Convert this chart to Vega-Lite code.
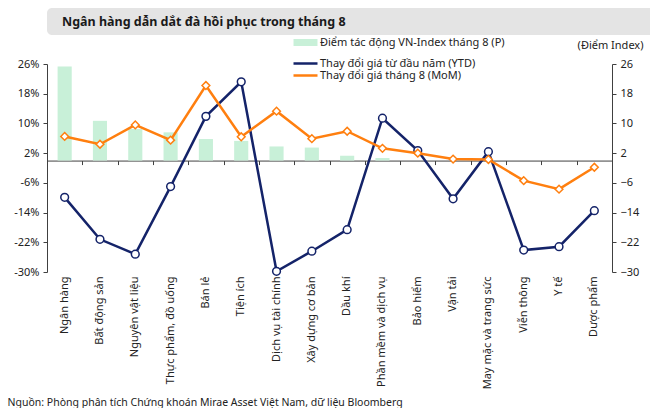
{
  "$schema": "https://vega.github.io/schema/vega-lite/v6.json",
  "background": "white",
  "padding": {"left": 7, "top": 8, "right": 7, "bottom": 0},
  "spacing": 4,
  "columns": 1,
  "align": "none",
  "config": {
    "font": "Noto Sans",
    "view": {"stroke": null},
    "axis": {"labelFont": "Noto Sans", "labelFontSize": 11, "labelColor": "#222222", "domainColor": "#404040", "tickColor": "#404040", "grid": false}
  },
  "datasets": {
    "sectors": [
      {"sector": "Ngân hàng", "bar": 25.3, "ytd": -9.9, "mom": 6.5},
      {"sector": "Bất động sản", "bar": 10.7, "ytd": -21.2, "mom": 4.4},
      {"sector": "Nguyên vật liệu", "bar": 8.5, "ytd": -25.2, "mom": 9.6},
      {"sector": "Thực phẩm, đồ uống", "bar": 7.6, "ytd": -7.0, "mom": 5.5},
      {"sector": "Bán lẻ", "bar": 5.8, "ytd": 11.9, "mom": 20.2},
      {"sector": "Tiện ích", "bar": 5.3, "ytd": 21.2, "mom": 6.4},
      {"sector": "Dịch vụ tài chính", "bar": 3.8, "ytd": -29.8, "mom": 13.3},
      {"sector": "Xây dựng cơ bản", "bar": 3.5, "ytd": -24.4, "mom": 5.9},
      {"sector": "Dầu khí", "bar": 1.3, "ytd": -18.6, "mom": 7.9},
      {"sector": "Phần mềm và dịch vụ", "bar": 0.7, "ytd": 11.4, "mom": 3.3},
      {"sector": "Bảo hiểm", "bar": 0.0, "ytd": 2.7, "mom": 2.0},
      {"sector": "Vận tải", "bar": 0.0, "ytd": -10.3, "mom": 0.4},
      {"sector": "May mặc và trang sức", "bar": 0.0, "ytd": 2.4, "mom": 0.3},
      {"sector": "Viễn thông", "bar": 0.0, "ytd": -24.1, "mom": -5.4},
      {"sector": "Y tế", "bar": 0.0, "ytd": -23.2, "mom": -7.7},
      {"sector": "Dược phẩm", "bar": 0.0, "ytd": -13.5, "mom": -1.8}
    ]
  },
  "concat": [
    {
      "width": 636,
      "height": 27,
      "view": {"fill": "#e4e4e4", "stroke": null, "cornerRadius": 5},
      "title": {"text": "Ngân hàng dẫn dắt đà hồi phục trong tháng 8", "anchor": "start", "offset": -20, "dx": 15, "fontSize": 12.5, "fontWeight": "bold", "color": "#1a1a1a", "font": "Noto Sans"},
      "data": {"values": [{"t": ""}]},
      "mark": {"type": "text"},
      "encoding": {"text": {"field": "t"}}
    },
    {
      "width": 565,
      "height": 208,
      "data": {"name": "sectors"},
      "layer": [
        {
          "mark": {"type": "bar", "width": {"band": 0.4}},
          "encoding": {
            "x": {"field": "sector", "type": "nominal", "sort": null, "scale": {"paddingInner": 0, "paddingOuter": 0},
              "axis": {"orient": "bottom", "labelAngle": -90, "domain": false, "ticks": false, "labelPadding": 4, "labelLimit": 200,
                "title": "Nguồn: Phòng phân tích Chứng khoán Mirae Asset Việt Nam, dữ liệu Bloomberg",
                "titleX": -40, "titleY": 130, "titleAlign": "left", "titleBaseline": "middle", "titleFontSize": 10.5, "titleFontWeight": "normal", "titleColor": "#222222", "titleFont": "Noto Sans"}},
            "y": {"field": "bar", "type": "quantitative",
              "scale": {"domain": [-30, 26], "nice": false, "zero": false},
              "axis": {"orient": "right", "values": [-30, -22, -14, -6, 2, 10, 18, 26], "tickSize": 4, "labelPadding": 4,
                "title": "(Điểm Index)", "titleAngle": 0, "titleX": 31, "titleY": -19, "titleAlign": "right", "titleBaseline": "middle", "titleFontSize": 11, "titleFontWeight": "normal", "titleColor": "#222222", "titleFont": "Noto Sans"}},
            "color": {"datum": "Điểm tác động VN-Index tháng 8 (P)", "type": "nominal"}
          }
        },
        {
          "mark": {"type": "line", "strokeWidth": 2.5, "point": {"shape": "circle", "filled": false, "fill": "white", "size": 60, "strokeWidth": 1.5}},
          "encoding": {
            "x": {"field": "sector", "type": "nominal", "sort": null,
              "axis": {"orient": "bottom", "offset": -111.43, "labels": false, "domain": true, "ticks": true, "tickBand": "extent", "tickSize": 4, "title": null}},
            "y": {"field": "ytd", "type": "quantitative",
              "scale": {"domain": [-30, 26], "nice": false, "zero": false},
              "axis": {"orient": "left", "values": [-30, -22, -14, -6, 2, 10, 18, 26], "labelExpr": "datum.value + '%'", "tickSize": 4, "labelPadding": 4, "title": null, "minExtent": 38, "maxExtent": 38}},
            "color": {"datum": "Thay đổi giá từ đầu năm (YTD)", "type": "nominal"}
          }
        },
        {
          "mark": {"type": "line", "strokeWidth": 2.5, "point": {"shape": "diamond", "filled": false, "fill": "white", "size": 60, "strokeWidth": 1.5}},
          "encoding": {
            "x": {"field": "sector", "type": "nominal", "sort": null, "axis": null},
            "y": {"field": "mom", "type": "quantitative", "scale": {"domain": [-30, 26], "nice": false, "zero": false}, "axis": null},
            "color": {"datum": "Thay đổi giá tháng 8 (MoM)", "type": "nominal",
              "scale": {"domain": ["Điểm tác động VN-Index tháng 8 (P)", "Thay đổi giá từ đầu năm (YTD)", "Thay đổi giá tháng 8 (MoM)"], "range": ["#c8f0d8", "#142369", "#ff7f0f"]},
              "legend": {"orient": "none", "legendX": 244, "legendY": 29, "title": null, "symbolType": "M-1,0H7", "symbolSize": 36, "symbolStrokeWidth": 2.5, "rowPadding": 0, "labelFontSize": 11, "labelColor": "#222222", "labelFont": "Noto Sans", "labelOffset": 18, "labelLimit": 300,
                "encode": {"symbols": {"update": {"strokeWidth": {"signal": "datum.index === 0 ? 7 : 2.5"}}}}}}
          }
        }
      ],
      "resolve": {"scale": {"y": "independent"}, "axis": {"x": "independent"}}
    }
  ]
}
